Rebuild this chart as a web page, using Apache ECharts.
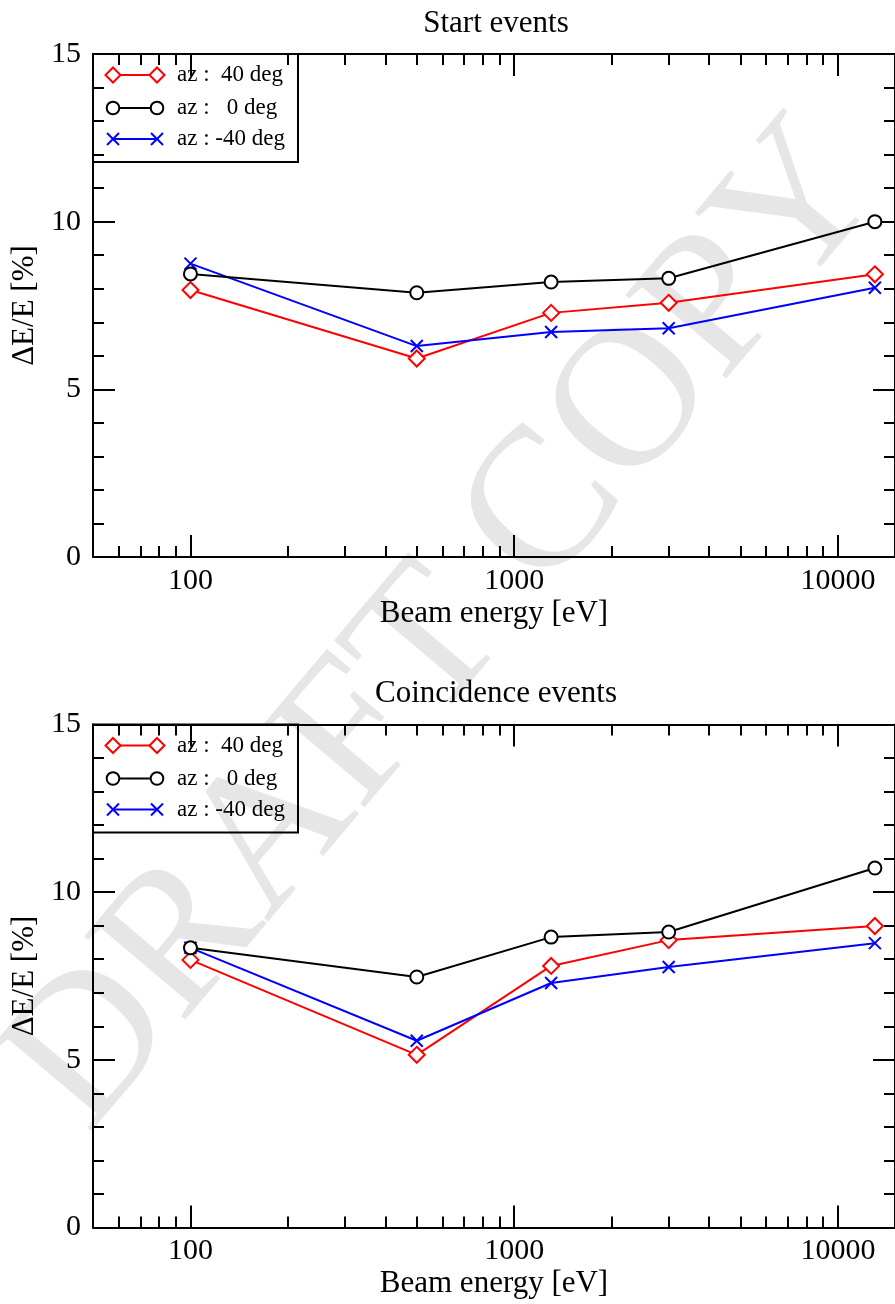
<!DOCTYPE html>
<html><head><meta charset="utf-8">
<script src="https://cdn.jsdelivr.net/npm/echarts@6/dist/echarts.min.js"></script>
<style>html,body{margin:0;padding:0;background:#fff}#c{width:895px;height:1304px}</style>
</head><body><div id="c"></div>
<script>
// ---- data ----
const energies = [100, 500, 1300, 3000, 13000];
const startAz40  = [7.96, 5.92, 7.28, 7.58, 8.43];
const startAz0   = [8.44, 7.88, 8.20, 8.31, 10.0];
const startAzM40 = [8.75, 6.29, 6.71, 6.82, 8.03];
const coinAz40   = [7.98, 5.15, 7.80, 8.57, 8.99];
const coinAz0    = [8.34, 7.47, 8.66, 8.81, 10.72];
const coinAzM40  = [8.34, 5.57, 7.29, 7.77, 8.48];
const seriesNames = ['az :  40 deg', 'az :   0 deg', 'az : -40 deg'];
const panelTitles = ['Start events', 'Coincidence events'];
const majorXTicks = [100, 1000, 10000];
const minorXTicks = [60, 70, 80, 90, 200, 300, 400, 500, 600, 700, 800, 900,
                     2000, 3000, 4000, 5000, 6000, 7000, 8000, 9000];
const xName = 'Beam energy [eV]';
const yName = '\u0394E/E [%]';

const FONT = "'Liberation Serif','Times New Roman',serif";
const colors = ['#ff0000', '#000000', '#0000ff'];
const symbols = ['emptyDiamond', 'emptyCircle', 'path://M0,0L10,10M10,0L0,10'];
const symbolSizes = [16, 13, 12];

const gridTops = [54, 724.5];
const gridH = 503;
const gridLeft = 93;
const gridW = 806;

const grids = gridTops.map(t => ({left: gridLeft, top: t, width: gridW, height: gridH, containLabel: false}));

const xAxes = [];
const yAxes = [];
gridTops.forEach((t, gi) => {
  const base = {type: 'log', logBase: 10, gridIndex: gi, min: 50, max: 15000, splitLine: {show: false}};
  xAxes.push(Object.assign({}, base, {
    position: 'bottom',
    name: xName, nameLocation: 'middle', nameGap: 41,
    nameTextStyle: {fontFamily: FONT, fontSize: 31, color: '#000'},
    axisLine: {show: true, lineStyle: {color: '#000', width: 2}},
    axisTick: {show: true, inside: true, length: 22, customValues: majorXTicks, lineStyle: {color: '#000', width: 2}},
    axisLabel: {show: true, customValues: majorXTicks, margin: 9, fontFamily: FONT, fontSize: 30, color: '#000',
                formatter: v => String(Math.round(v))}
  }));
  xAxes.push(Object.assign({}, base, {
    position: 'bottom',
    axisLine: {show: false},
    axisTick: {show: true, inside: true, length: 11, customValues: minorXTicks, lineStyle: {color: '#000', width: 2}},
    axisLabel: {show: false}
  }));
  xAxes.push(Object.assign({}, base, {
    position: 'top',
    axisLine: {show: true, lineStyle: {color: '#000', width: 2}},
    axisTick: {show: true, inside: true, length: 22, customValues: majorXTicks, lineStyle: {color: '#000', width: 2}},
    axisLabel: {show: false}
  }));
  xAxes.push(Object.assign({}, base, {
    position: 'top',
    axisLine: {show: false},
    axisTick: {show: true, inside: true, length: 11, customValues: minorXTicks, lineStyle: {color: '#000', width: 2}},
    axisLabel: {show: false}
  }));
  const ybase = {type: 'value', gridIndex: gi, min: 0, max: 15, interval: 5, splitLine: {show: false}};
  yAxes.push(Object.assign({}, ybase, {
    position: 'left',
    name: yName, nameLocation: 'middle', nameGap: 52,
    nameTextStyle: {fontFamily: FONT, fontSize: 31, color: '#000'},
    axisLine: {show: true, lineStyle: {color: '#000', width: 2}},
    axisTick: {show: true, inside: true, length: 22, lineStyle: {color: '#000', width: 2}},
    minorTick: {show: true, splitNumber: 5, length: 11, lineStyle: {color: '#000', width: 2}},
    axisLabel: {show: true, margin: 12, fontFamily: FONT, fontSize: 30, color: '#000'}
  }));
  yAxes.push(Object.assign({}, ybase, {
    position: 'right',
    axisLine: {show: true, lineStyle: {color: '#000', width: 2}},
    axisTick: {show: true, inside: true, length: 22, lineStyle: {color: '#000', width: 2}},
    minorTick: {show: true, splitNumber: 5, length: 11, lineStyle: {color: '#000', width: 2}},
    axisLabel: {show: false}
  }));
});

const panelData = [[startAz40, startAz0, startAzM40], [coinAz40, coinAz0, coinAzM40]];
const series = [];
panelData.forEach((sets, gi) => {
  sets.forEach((vals, si) => {
    series.push({
      type: 'line', name: seriesNames[si],
      xAxisIndex: gi * 4, yAxisIndex: gi * 2,
      data: energies.map((e, i) => [e, vals[i]]),
      symbol: symbols[si], symbolSize: symbolSizes[si],
      showAllSymbol: true,
      lineStyle: {color: colors[si], width: 2},
      itemStyle: {color: colors[si], borderColor: colors[si], borderWidth: 2},
      z: 3 + (si === 1 ? 1 : 0),
      animation: false
    });
  });
});

// ---- legend boxes & watermark drawn as graphic ----
const graphic = [];
graphic.push({
  type: 'text', x: 447, y: 628, rotation: 0.87, z: -10, silent: true,
  style: {text: 'DRAFT COPY', fontFamily: FONT, fontSize: 200, fill: '#e6e6e6',
          align: 'center', verticalAlign: 'middle', textAlign: 'center', textVerticalAlign: 'middle'}
});
gridTops.forEach((t) => {
  graphic.push({type: 'rect', z: 50, shape: {x: 93, y: t, width: 205, height: 108},
                style: {fill: 'rgba(255,255,255,0)', stroke: '#000', lineWidth: 2}});
  const rowY = [t + 21, t + 54, t + 85];
  const x1 = 113, x2 = 157;
  seriesNames.forEach((nm, si) => {
    const y = rowY[si];
    graphic.push({type: 'line', z: 51, shape: {x1: x1, y1: y, x2: x2, y2: y},
                  style: {stroke: colors[si], lineWidth: 2}});
    [x1, x2].forEach(cx => {
      if (si === 0) {
        graphic.push({type: 'polygon', z: 52, shape: {points: [[cx, y - 7.5], [cx + 7.5, y], [cx, y + 7.5], [cx - 7.5, y]]},
                      style: {fill: '#fff', stroke: colors[si], lineWidth: 2}});
      } else if (si === 1) {
        graphic.push({type: 'circle', z: 52, shape: {cx: cx, cy: y, r: 6.3},
                      style: {fill: '#fff', stroke: colors[si], lineWidth: 2}});
      } else {
        graphic.push({type: 'polyline', z: 52, shape: {points: [[cx - 6, y - 6], [cx + 6, y + 6]]},
                      style: {stroke: colors[si], lineWidth: 2, fill: null}});
        graphic.push({type: 'polyline', z: 52, shape: {points: [[cx + 6, y - 6], [cx - 6, y + 6]]},
                      style: {stroke: colors[si], lineWidth: 2, fill: null}});
      }
    });
    graphic.push({type: 'text', z: 52, x: 177, y: y,
                  style: {text: nm, fontFamily: FONT, fontSize: 23, fill: '#000',
                          align: 'left', verticalAlign: 'middle', textAlign: 'left', textVerticalAlign: 'middle'}});
  });
});

const titles = panelTitles.map((txt, i) => ({
  text: txt, left: 496, top: gridTops[i] - 33 - 13, padding: 0, textAlign: 'center',
  textStyle: {fontFamily: FONT, fontSize: 31, fontWeight: 'normal', color: '#000'}
}));

const chart = echarts.init(document.getElementById('c'), null, {renderer: 'canvas'});
chart.setOption({
  backgroundColor: '#fff',
  animation: false,
  title: titles,
  grid: grids,
  xAxis: xAxes,
  yAxis: yAxes,
  series: series,
  graphic: {elements: graphic}
});
</script>
</body></html>
